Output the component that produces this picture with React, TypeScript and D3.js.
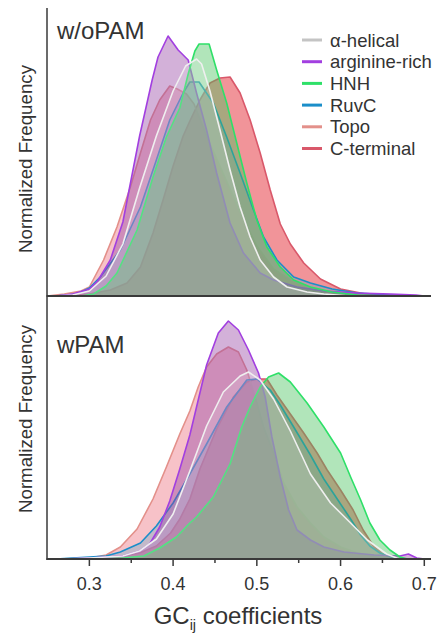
import React from "react";
import * as d3 from "d3";

type P = [number, number];

// ---- series names (draw order: bottom to top) ----
const legendNames = ["α-helical", "arginine-rich", "HNH", "RuvC", "Topo", "C-terminal"];
const drawOrder = ["C-terminal", "Topo", "RuvC", "arginine-rich", "HNH", "α-helical"];

// ---- x tick labels ----
const majorTicks = [0.3, 0.4, 0.5, 0.6, 0.7];
const minorTicks = [0.35, 0.45, 0.55, 0.65];

// ---- w/oPAM panel (GC value, normalized frequency) ----
const topHelical: P[] = [[0.26,0],[0.28,1],[0.30,5],[0.32,20],[0.34,52],[0.36,108],[0.38,160],[0.40,205],[0.415,230],[0.428,237],[0.434,232],[0.444,205],[0.456,166],[0.468,126],[0.48,89],[0.492,59],[0.504,36],[0.52,19],[0.536,9],[0.56,4],[0.58,2],[0.61,0]];
const topArginine: P[] = [[0.26,0],[0.28,2],[0.30,7],[0.31,15],[0.325,36],[0.34,74],[0.36,160],[0.375,216],[0.382,239],[0.394,260],[0.406,246],[0.418,236],[0.428,203],[0.44,166],[0.452,123],[0.468,73],[0.484,43],[0.504,23],[0.52,16],[0.548,9],[0.58,5],[0.62,3],[0.66,2],[0.69,1],[0.70,0]];
const topHNH: P[] = [[0.29,0],[0.305,2],[0.32,10],[0.333,23],[0.357,66],[0.376,119],[0.392,159],[0.408,188],[0.418,222],[0.426,245],[0.431,252],[0.443,252],[0.452,226],[0.464,193],[0.476,153],[0.488,113],[0.50,76],[0.512,49],[0.528,29],[0.544,16],[0.564,9],[0.59,4],[0.62,1],[0.65,0]];
const topRuvC: P[] = [[0.26,0],[0.285,2],[0.30,8],[0.313,19],[0.337,46],[0.361,89],[0.38,136],[0.396,176],[0.412,203],[0.42,214],[0.431,214],[0.448,193],[0.464,159],[0.48,123],[0.496,86],[0.508,59],[0.524,36],[0.544,19],[0.564,13],[0.59,7],[0.62,3],[0.66,1],[0.69,0]];
const topTopo: P[] = [[0.25,0],[0.27,2],[0.29,5],[0.30,9],[0.317,36],[0.333,69],[0.349,109],[0.361,143],[0.373,176],[0.384,196],[0.396,210],[0.405,207],[0.416,202],[0.425,192],[0.44,160],[0.46,122],[0.48,84],[0.50,50],[0.52,27],[0.54,16],[0.56,9],[0.58,5],[0.60,2],[0.63,0]];
const topCTerminal: P[] = [[0.27,0],[0.30,2],[0.325,6],[0.345,13],[0.361,29],[0.376,63],[0.388,96],[0.40,130],[0.412,160],[0.42,175],[0.432,196],[0.444,213],[0.456,218],[0.468,219],[0.48,203],[0.492,176],[0.504,143],[0.516,106],[0.528,72],[0.54,52],[0.556,33],[0.576,17],[0.60,7],[0.63,2],[0.67,0]];

// ---- wPAM panel ----
const botHelical: P[] = [[0.27,0],[0.30,1],[0.34,3],[0.36,8],[0.38,20],[0.40,45],[0.42,88],[0.44,133],[0.46,167],[0.48,183],[0.49,187],[0.504,179],[0.52,160],[0.54,128],[0.564,85],[0.588,56],[0.612,36],[0.632,19],[0.655,5],[0.67,0]];
const botArginine: P[] = [[0.27,0],[0.30,1],[0.34,3],[0.36,8],[0.372,15],[0.384,32],[0.396,58],[0.408,90],[0.42,124],[0.428,152],[0.44,194],[0.454,226],[0.466,238],[0.478,229],[0.49,209],[0.502,186],[0.51,162],[0.518,122],[0.528,82],[0.538,49],[0.548,29],[0.564,19],[0.58,12],[0.604,7],[0.64,4],[0.671,3],[0.681,5],[0.691,1],[0.70,0]];
const botHNH: P[] = [[0.30,0],[0.34,1],[0.365,3],[0.384,11],[0.404,22],[0.42,36],[0.428,42],[0.448,62],[0.468,95],[0.482,132],[0.492,152],[0.504,172],[0.514,182],[0.526,186],[0.54,177],[0.56,156],[0.58,132],[0.60,106],[0.612,82],[0.624,59],[0.635,36],[0.647,19],[0.659,9],[0.671,2],[0.68,0]];
const botRuvC: P[] = [[0.26,0],[0.28,1],[0.30,2],[0.32,3],[0.337,7],[0.361,16],[0.38,33],[0.40,56],[0.42,85],[0.44,115],[0.464,152],[0.488,179],[0.50,180],[0.516,169],[0.528,154],[0.544,132],[0.564,104],[0.58,80],[0.596,60],[0.612,40],[0.624,24],[0.635,13],[0.647,6],[0.66,2],[0.67,0]];
const botTopo: P[] = [[0.26,0],[0.30,1],[0.32,4],[0.337,12],[0.357,30],[0.376,60],[0.392,92],[0.408,125],[0.42,148],[0.43,172],[0.44,192],[0.452,205],[0.466,212],[0.478,207],[0.488,189],[0.498,162],[0.508,132],[0.52,106],[0.532,76],[0.548,52],[0.564,36],[0.58,22],[0.60,12],[0.62,6],[0.643,2],[0.66,0]];
const botCTerminal: P[] = [[0.27,0],[0.30,1],[0.34,3],[0.36,6],[0.38,13],[0.397,26],[0.408,40],[0.42,60],[0.432,90],[0.452,130],[0.472,162],[0.488,177],[0.50,180],[0.512,180],[0.524,164],[0.54,145],[0.556,126],[0.572,106],[0.584,89],[0.60,69],[0.615,49],[0.627,29],[0.64,12],[0.652,4],[0.67,0]];

const topData: Record<string, P[]> = {
  "α-helical": topHelical, "arginine-rich": topArginine, HNH: topHNH,
  RuvC: topRuvC, Topo: topTopo, "C-terminal": topCTerminal,
};
const botData: Record<string, P[]> = {
  "α-helical": botHelical, "arginine-rich": botArginine, HNH: botHNH,
  RuvC: botRuvC, Topo: botTopo, "C-terminal": botCTerminal,
};

const styles: Record<string, { line: string; legend: string; fill: string; op: number }> = {
  "α-helical": { line: "#efefef", legend: "#c4c4c4", fill: "#ebebeb", op: 0.2 },
  "arginine-rich": { line: "#a23fe0", legend: "#a23fe0", fill: "#9646a5", op: 0.42 },
  HNH: { line: "#2ee068", legend: "#2ee068", fill: "#46c25a", op: 0.42 },
  RuvC: { line: "#1b8ec9", legend: "#1b8ec9", fill: "#3ca0cd", op: 0.28 },
  Topo: { line: "#e3908a", legend: "#e3908a", fill: "#eb6e7d", op: 0.42 },
  "C-terminal": { line: "#d9586a", legend: "#d9586a", fill: "#e63c46", op: 0.55 },
};

const W = 443, H = 638;
const FONT = "'Liberation Sans', Arial, sans-serif";
const TXT = "#333";

export default function App() {
  const x = d3.scaleLinear().domain([0.25, 0.708]).range([47.5, 431]);
  const yTop = d3.scaleLinear().domain([0, 288]).range([296, 8]);
  const yBot = d3.scaleLinear().domain([0, 263]).range([559, 296]);

  const panel = (data: Record<string, P[]>, y: d3.ScaleLinear<number, number>) => {
    const area = d3.area<P>().x(d => x(d[0])).y0(y(0)).y1(d => y(d[1]));
    const line = d3.line<P>().x(d => x(d[0])).y(d => y(d[1]));
    return drawOrder.map(name => (
      <g key={name}>
        <path d={area(data[name]) || ""} fill={styles[name].fill} fillOpacity={styles[name].op} stroke="none" />
        <path d={line(data[name]) || ""} fill="none" stroke={styles[name].line} strokeWidth={1.6} strokeLinejoin="round" />
      </g>
    ));
  };

  return (
    <svg width={W} height={H} style={{ position: "absolute", left: 0, top: 0, background: "#fff" }} fontFamily={FONT}>
      {panel(topData, yTop)}
      {panel(botData, yBot)}

      {/* axes */}
      <line x1={47} x2={47} y1={8} y2={560} stroke="#3a3a3a" strokeWidth={1.5} />
      <line x1={46.5} x2={431} y1={yTop(0)} y2={yTop(0)} stroke="#3a3a3a" strokeWidth={2} />
      <line x1={46.5} x2={431} y1={yBot(0)} y2={yBot(0)} stroke="#3a3a3a" strokeWidth={2} />
      {majorTicks.map(t => (
        <g key={t}>
          <line x1={x(t)} x2={x(t)} y1={yBot(0)} y2={yBot(0) + 7} stroke="#3a3a3a" strokeWidth={1.5} />
          <text x={x(t)} y={590} textAnchor="middle" fontSize={18} fill={TXT}>{t.toFixed(1)}</text>
        </g>
      ))}
      {minorTicks.map(t => (
        <line key={t} x1={x(t)} x2={x(t)} y1={yBot(0)} y2={yBot(0) + 4} stroke="#3a3a3a" strokeWidth={1.5} />
      ))}

      {/* titles */}
      <text x={238} y={624} textAnchor="middle" fontSize={24} fill={TXT}>
        GC<tspan fontSize={14.5} dy={6}>ij</tspan><tspan dy={-6}> coefficients</tspan>
      </text>
      <text transform="translate(32,159) rotate(-90)" textAnchor="middle" fontSize={18.7} fill={TXT}>Normalized Frequency</text>
      <text transform="translate(32,419) rotate(-90)" textAnchor="middle" fontSize={18.7} fill={TXT}>Normalized Frequency</text>
      <text x={57} y={39} fontSize={24} fill={TXT}>w/oPAM</text>
      <text x={57} y={353} fontSize={24} fill={TXT}>wPAM</text>

      {/* legend */}
      {legendNames.map((name, i) => {
        const cy = 40 + i * 21.7;
        return (
          <g key={name}>
            <line x1={302} x2={322} y1={cy} y2={cy} stroke={styles[name].legend} strokeWidth={3} />
            <text x={330} y={cy + 6.5} fontSize={18.5} fill={TXT}>{name}</text>
          </g>
        );
      })}
    </svg>
  );
}
